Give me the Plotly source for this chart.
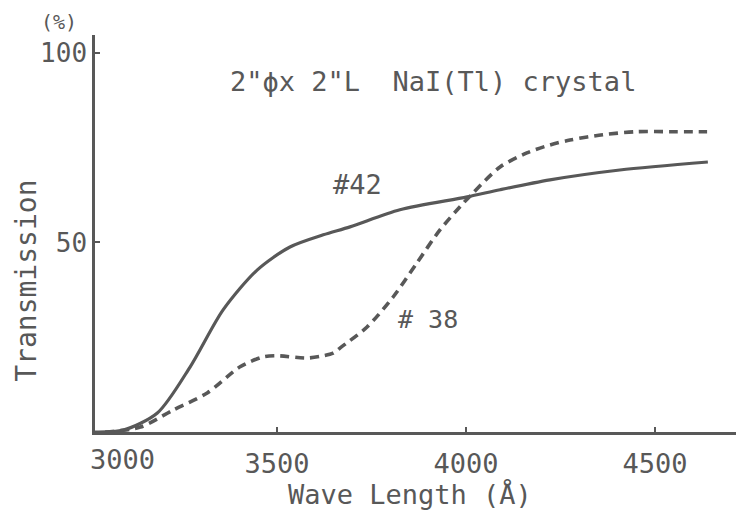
import plotly.graph_objects as go

# ---- data ----
wl_42 = [3018, 3093, 3183, 3270, 3357, 3447, 3534, 3622, 3693, 3825, 4003, 4090, 4222, 4407, 4640]
tr_42 = [0.0, 0.5, 5.0, 17.2, 32.2, 42.7, 48.8, 52.0, 54.1, 58.6, 62.0, 63.9, 66.5, 69.1, 71.2]

wl_38 = [3045, 3138, 3225, 3315, 3402, 3463, 3500, 3579, 3622, 3648, 3667, 3738, 3807, 3870,
         3931, 3984, 4019, 4090, 4161, 4222, 4275, 4362, 4452, 4540, 4638]
tr_38 = [0.0, 1.3, 5.8, 10.3, 17.2, 19.8, 20.1, 19.5, 20.1, 20.8, 22.2, 27.7, 35.6, 44.6,
         53.3, 59.4, 63.1, 69.9, 73.6, 75.7, 77.0, 78.4, 79.2, 79.2, 79.2]

x_ticks = [3500, 4000, 4500]
x_tick_text = ["3500", "4000", "4500"]
x_first_label = "3000"
y_ticks = [50, 100]
y_tick_text = ["50", "100"]

ink = "#585858"
font = "DejaVu Sans Mono"

fig = go.Figure()
fig.add_trace(go.Scatter(x=wl_42, y=tr_42, mode="lines", name="#42",
                         line=dict(color=ink, width=3.2, shape="spline", smoothing=0.8)))
fig.add_trace(go.Scatter(x=wl_38, y=tr_38, mode="lines", name="#38",
                         line=dict(color=ink, width=3.6, dash="9px,6px", shape="spline", smoothing=0.8)))

# page body has an 8px margin: figure is 736x518 so it fits the 744x526 window
fig.update_layout(
    width=736, height=518,
    margin=dict(l=87, r=1, t=27, b=94),
    paper_bgcolor="white", plot_bgcolor="white",
    showlegend=False,
    font=dict(family=font, color=ink),
    xaxis=dict(range=[3018, 4733], showgrid=False, zeroline=False,
               showline=True, linecolor=ink, linewidth=2.5,
               ticks="inside", ticklen=5, tickwidth=2, tickcolor=ink,
               tickvals=x_ticks, ticktext=x_tick_text,
               tickfont=dict(size=27, color=ink), ticklabelstandoff=6),
    yaxis=dict(range=[0, 104.7], showgrid=False, zeroline=False,
               showline=True, linecolor=ink, linewidth=2.5,
               ticks="inside", ticklen=5, tickwidth=2, tickcolor=ink,
               tickvals=y_ticks, ticktext=y_tick_text,
               tickfont=dict(size=26, color=ink), ticklabelstandoff=0),
)

ann_font = dict(family=font, color=ink)
# plot area: 648 px wide, 397 px tall
fig.add_annotation(xref="x domain", yref="paper", x=0, y=0, xshift=27, yshift=-27,
                   text=x_first_label, showarrow=False, xanchor="center", yanchor="middle",
                   font=dict(ann_font, size=27))
fig.add_annotation(xref="paper", yref="paper", x=0.486, y=-0.158, text="Wave Length (Å)",
                   showarrow=False, xanchor="center", yanchor="middle", font=dict(ann_font, size=27))
fig.add_annotation(xref="paper", yref="paper", x=-0.107, y=0.38, text="Transmission",
                   textangle=-90, showarrow=False, xanchor="center", yanchor="middle",
                   font=dict(ann_font, size=28))
fig.add_annotation(xref="paper", yref="paper", x=-0.055, y=1.033, text="(%)",
                   showarrow=False, xanchor="center", yanchor="middle", font=dict(ann_font, size=20))
fig.add_annotation(x=3913, y=92.5, text="2\"ϕx 2\"L  NaI(Tl) crystal",
                   showarrow=False, xanchor="center", yanchor="middle", font=dict(ann_font, size=27))
fig.add_annotation(x=3714, y=65.4, text="#42", showarrow=False,
                   xanchor="center", yanchor="middle", font=dict(ann_font, size=27))
fig.add_annotation(x=3899, y=29.6, text="# 38", showarrow=False,
                   xanchor="center", yanchor="middle", font=dict(ann_font, size=25))

fig.write_html("out.html")
